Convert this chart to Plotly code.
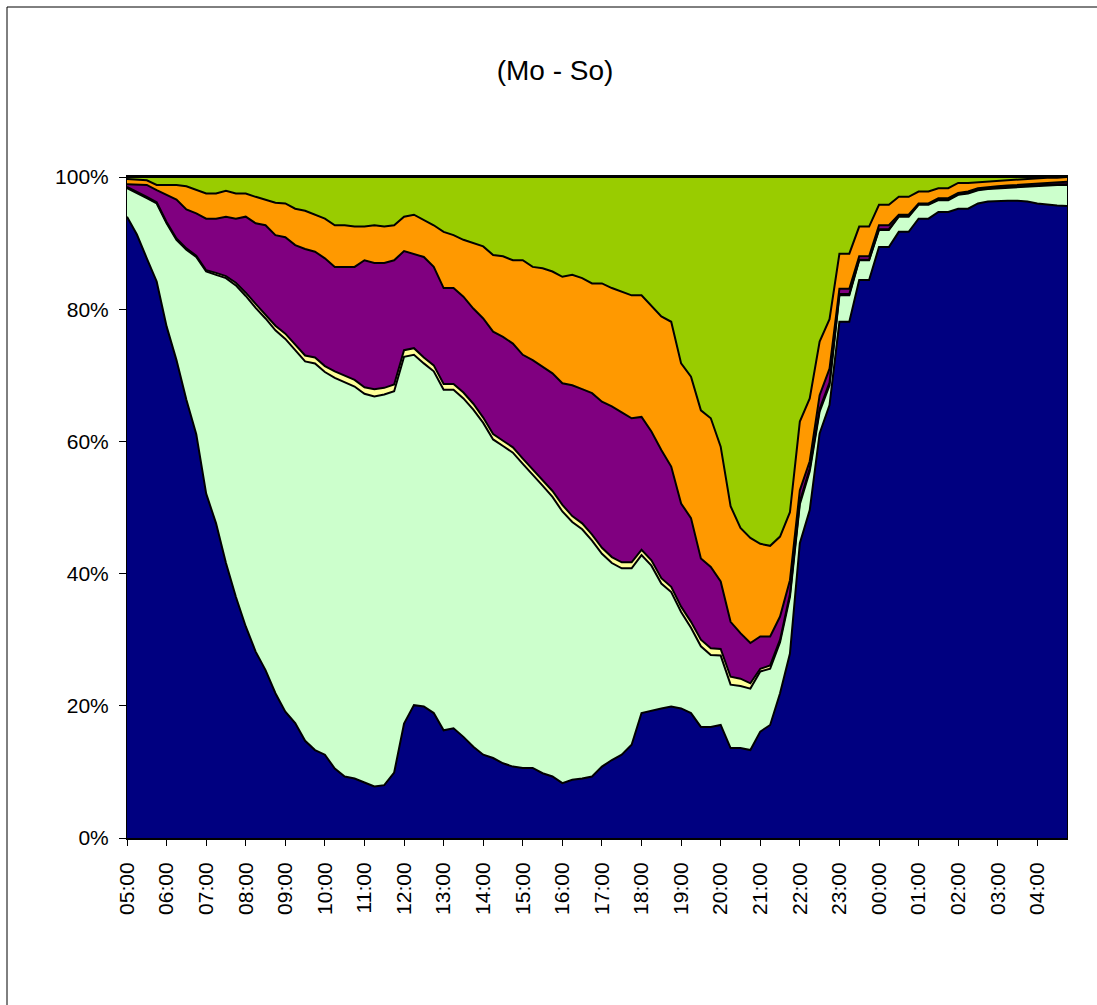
import plotly.graph_objects as go

times = ["05:00","05:15","05:30","05:45","06:00","06:15","06:30","06:45",
         "07:00","07:15","07:30","07:45","08:00","08:15","08:30","08:45",
         "09:00","09:15","09:30","09:45","10:00","10:15","10:30","10:45",
         "11:00","11:15","11:30","11:45","12:00","12:15","12:30","12:45",
         "13:00","13:15","13:30","13:45","14:00","14:15","14:30","14:45",
         "15:00","15:15","15:30","15:45","16:00","16:15","16:30","16:45",
         "17:00","17:15","17:30","17:45","18:00","18:15","18:30","18:45",
         "19:00","19:15","19:30","19:45","20:00","20:15","20:30","20:45",
         "21:00","21:15","21:30","21:45","22:00","22:15","22:30","22:45",
         "23:00","23:15","23:30","23:45","00:00","00:15","00:30","00:45",
         "01:00","01:15","01:30","01:45","02:00","02:15","02:30","02:45",
         "03:00","03:15","03:30","03:45","04:00","04:15","04:30","04:45"]

tick_labels = ["05:00","06:00","07:00","08:00","09:00","10:00","11:00","12:00",
               "13:00","14:00","15:00","16:00","17:00","18:00","19:00","20:00",
               "21:00","22:00","23:00","00:00","01:00","02:00","03:00","04:00"]

navy = [94.0,91.3,87.7,84.2,77.4,72.3,66.3,61.1,52.1,47.6,41.6,36.5,32.0,28.2,25.4,21.9,
        19.1,17.4,14.7,13.3,12.6,10.5,9.3,9.0,8.4,7.8,8.0,9.9,17.3,20.1,19.9,18.9,
        16.3,16.6,15.3,13.8,12.6,12.1,11.3,10.8,10.6,10.6,9.8,9.3,8.3,8.8,9.0,9.3,
        10.8,11.8,12.6,14.1,18.9,19.3,19.6,19.9,19.6,18.9,16.8,16.8,17.1,13.6,13.6,13.3,
        16.1,17.1,21.9,27.9,44.6,49.6,61.2,65.5,78.1,78.1,84.4,84.4,89.4,89.4,91.7,91.7,
        93.7,93.7,94.7,94.7,95.2,95.2,96.0,96.3,96.4,96.4,96.4,96.3,96.0,95.8,95.7,95.6]

light_green = [4.3,6.3,9.1,11.8,15.6,18.2,22.7,26.8,33.6,37.6,43.1,47.1,50.0,52.0,53.2,54.9,
               56.4,56.4,57.4,58.5,57.9,59.1,59.7,59.3,58.8,59.0,59.1,57.7,55.5,53.0,51.9,51.7,
               51.5,51.2,51.2,51.0,50.2,48.2,48.0,47.5,46.0,44.4,43.5,42.3,41.1,39.0,37.7,35.7,
               32.2,29.8,28.2,26.7,23.9,21.9,18.9,17.3,14.6,12.9,12.2,10.9,10.5,9.6,9.4,9.3,
               9.1,8.5,7.7,8.6,5.9,5.9,3.3,3.0,4.0,4.0,3.0,3.0,2.6,2.6,2.3,2.3,
               2.1,2.1,1.8,1.8,2.1,2.3,2.0,1.9,1.9,2.0,2.1,2.3,2.7,3.0,3.1,3.2]

light_yellow = [0.2,0.2,0.2,0.2,0.2,0.2,0.2,0.2,0.2,0.3,0.3,0.4,0.5,0.6,0.6,0.7,
                0.8,0.8,0.9,0.9,0.9,1.0,1.0,1.0,1.0,1.1,1.0,1.0,1.0,1.0,0.9,0.9,
                0.9,0.9,0.9,0.9,0.8,0.8,0.8,0.8,0.8,0.8,0.9,0.9,1.0,0.9,0.9,0.9,
                0.9,0.9,0.9,0.9,0.8,0.8,0.8,0.8,0.8,0.9,1.0,1.0,1.0,1.2,1.1,0.8,
                0.4,0.5,0.4,0.4,0.4,0.4,0.4,0.4,0.2,0.2,0.1,0.1,0.1,0.1,0.1,0.1,
                0.1,0.1,0.1,0.1,0.1,0.1,0.1,0.1,0.1,0.1,0.1,0.1,0.1,0.1,0.1,0.1]

purple = [0.4,1.1,1.8,1.8,4.1,5.9,5.9,6.4,7.8,8.2,9.0,9.7,11.5,12.2,13.5,13.7,
          14.6,15.1,16.1,16.0,16.3,15.8,16.4,17.1,19.2,19.1,18.9,18.8,15.0,14.3,15.2,14.9,
          14.5,14.5,14.5,14.4,15.0,15.5,15.7,15.7,15.7,16.5,17.1,17.8,18.4,19.8,20.3,21.4,
          22.1,22.8,22.7,21.8,20.1,19.5,19.4,18.2,15.6,15.7,12.3,12.3,10.2,8.3,6.9,6.1,
          4.9,4.4,3.5,2.1,1.7,1.1,2.1,2.1,0.8,0.8,0.5,0.5,0.6,0.6,0.2,0.2,
          0.1,0.1,0.2,0.2,0.2,0.2,0.2,0.2,0.2,0.2,0.2,0.2,0.2,0.2,0.3,0.4]

orange = [0.8,0.7,0.7,0.8,1.5,2.2,3.5,3.5,3.8,3.8,3.9,3.8,3.5,4.0,3.9,4.9,
          5.1,5.5,5.8,5.6,6.0,6.3,6.3,6.1,5.1,5.7,5.5,5.3,5.2,5.9,5.6,6.3,
          8.5,8.0,8.6,9.9,10.9,11.6,12.2,12.6,14.3,14.1,14.9,15.4,16.1,16.7,16.8,16.6,
          17.9,17.9,18.2,18.6,18.4,19.0,20.2,21.9,21.2,21.4,22.4,22.5,20.4,17.5,15.9,15.9,
          14.0,13.7,12.1,10.3,10.4,9.5,8.1,7.5,5.3,5.3,4.5,4.5,3.1,3.1,2.7,2.7,
          1.8,1.8,1.5,1.5,1.5,1.3,0.9,0.8,0.9,0.9,0.9,0.9,0.8,0.8,0.7,0.7]

yellow_green = [0.3,0.4,0.5,1.2,1.2,1.2,1.4,2.0,2.5,2.5,2.1,2.5,2.5,3.0,3.4,3.9,
                4.0,4.8,5.1,5.7,6.3,7.3,7.3,7.5,7.5,7.3,7.5,7.3,6.0,5.7,6.5,7.3,
                8.3,8.8,9.5,10.0,10.5,11.8,12.0,12.6,12.6,13.6,13.8,14.3,15.1,14.8,15.3,16.1,
                16.1,16.8,17.4,17.9,17.9,19.5,21.1,21.9,28.2,30.2,35.3,36.5,40.8,49.8,53.1,54.6,
                55.5,55.8,54.4,50.7,37.0,33.5,24.9,21.5,11.6,11.6,7.5,7.5,4.2,4.2,3.0,3.0,
                2.2,2.2,1.7,1.7,0.9,0.9,0.8,0.7,0.5,0.4,0.3,0.2,0.2,0.1,0.1,0.0]

series = [
    ("navy", navy, "#000080"),
    ("light green", light_green, "#CCFFCC"),
    ("light yellow", light_yellow, "#FFFF99"),
    ("purple", purple, "#800080"),
    ("orange", orange, "#FF9900"),
    ("yellow green", yellow_green, "#99CC00"),
]

fig = go.Figure()
x_idx = list(range(len(times)))
for name, vals, col in series:
    fig.add_trace(go.Scatter(
        x=x_idx, y=vals, name=name, mode="lines",
        stackgroup="one", groupnorm="percent" if name == "navy" else None,
        fillcolor=col, line=dict(color="black", width=2),
        hovertext=times, hoverinfo="text+y",
    ))

font_family = "Arial, Liberation Sans, sans-serif"

fig.update_layout(
    width=1097, height=1005,
    paper_bgcolor="white", plot_bgcolor="white",
    margin=dict(l=127, r=30, t=177, b=167),
    showlegend=False,
    font=dict(family=font_family, size=21, color="black"),
    title=dict(text="(Mo - So)", x=555/1097, xanchor="center",
               y=1 - 70/1005, yanchor="middle", xref="container", yref="container",
               font=dict(family=font_family, size=28, color="black")),
    xaxis=dict(
        range=[0, len(times) - 1],
        tickmode="array", tickvals=x_idx[::4], ticktext=tick_labels,
        tickangle=-90, ticks="outside", ticklen=6, tickcolor="black", tickwidth=1,
        ticklabelstandoff=8,
        showline=True, linecolor="black", linewidth=2, mirror=True,
        showgrid=False, zeroline=False,
        tickfont=dict(family=font_family, size=21, color="black"),
    ),
    yaxis=dict(
        range=[0, 100],
        tickmode="array", tickvals=[0, 20, 40, 60, 80, 100],
        ticktext=["0%", "20%", "40%", "60%", "80%", "100%"],
        ticks="outside", ticklen=7, tickcolor="black", tickwidth=1,
        ticklabelstandoff=6,
        showline=True, linecolor="black", linewidth=1, mirror=True,
        showgrid=False, zeroline=False,
        tickfont=dict(family=font_family, size=21, color="black"),
    ),
    shapes=[dict(type="rect", xref="paper", yref="paper",
                 x0=(7 - 127) / 940, x1=(1100 - 127) / 940,
                 y0=(838 - 1010) / 661, y1=(838 - 7) / 661,
                 line=dict(color="black", width=1), fillcolor="rgba(0,0,0,0)",
                 layer="below")],
)

fig.write_html("out.html",
               config={"displayModeBar": False},
               post_script="document.body.style.margin='0';document.body.style.overflow='hidden';")
